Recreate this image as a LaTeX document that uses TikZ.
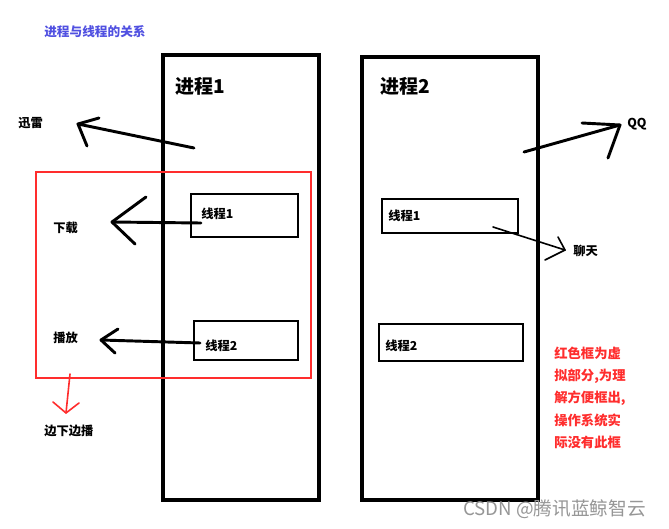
\documentclass[tikz,border=0pt]{standalone}
\usepackage{fontspec}
\setmainfont{Noto Sans CJK SC}
\newfontfamily\cjk{Noto Sans CJK SC}
\usetikzlibrary{fit}
\definecolor{titleblue}{RGB}{80,80,225}
\definecolor{markred}{RGB}{255,45,45}
\definecolor{wmgray}{RGB}{150,150,150}
\tikzset{
  procbox/.style={draw, line width=2.3pt, inner sep=0pt},
  thrbox/.style={draw, line width=2pt, inner sep=0pt},
  redbox/.style={draw=markred, line width=1.1pt, inner sep=0pt},
  lbl/.style={anchor=west, inner sep=0pt, font=\cjk\bfseries\fontsize{9.2}{11}\selectfont},
  biglbl/.style={anchor=west, inner sep=0pt, font=\cjk\bfseries\fontsize{14.3}{17}\selectfont},
  redlbl/.style={anchor=west, inner sep=0pt, text=markred, font=\cjk\bfseries\fontsize{10}{12}\selectfont},
  thick arrow/.style={line width=2.2pt, line cap=round, line join=round},
  thin arrow/.style={line width=1.2pt, line cap=round, line join=round},
}
\begin{document}
\begin{tikzpicture}[x=0.75pt,y=-0.75pt]
\useasboundingbox (0,0) rectangle (669,529);
\fill[white] (0,0) rectangle (669,529);

% title
\node[anchor=west, inner sep=0pt, text=titleblue, font=\cjk\bfseries\fontsize{9.5}{11}\selectfont] (title) at (44,32) {进程与线程的关系};

% process boxes
\node[procbox, fit={(163,55)(319,500)}] (p1) {};
\node[procbox, fit={(362,57)(538,500)}] (p2) {};
\node[biglbl] (p1l) at (175,86) {进程1};
\node[biglbl] (p2l) at (380,86) {进程2};

% red virtual frame
\node[redbox, fit={(36,172)(311,378)}] (rf) {};

% thread boxes
\node[thrbox, fit={(191,194)(298,237)}] (t11) {};
\node[thrbox, fit={(194,321)(298,360)}] (t12) {};
\node[thrbox, fit={(382,199)(518,233)}] (t21) {};
\node[thrbox, fit={(379,324)(523,361)}] (t22) {};
\node[lbl] (t11l) at (201,214) {线程1};
\node[lbl] (t12l) at (205,346) {线程2};
\node[lbl] (t21l) at (388,216) {线程1};
\node[lbl] (t22l) at (385,346) {线程2};

% outer labels
\node[lbl] (xl) at (18,123) {迅雷};
\node[lbl] (xz) at (53,228) {下载};
\node[lbl] (bf) at (53,338) {播放};
\node[lbl] (bb) at (44,431) {边下边播};
\node[lbl] (qq) at (627,124) {QQ};
\node[lbl] (lt) at (573,251) {聊天};

% arrow: 进程1 -> 迅雷
\coordinate (a1s) at (194,148);
\coordinate (a1t) at (78,124);
\draw[thick arrow] (a1s) -- (a1t);
\draw[thick arrow] (99,118) -- (a1t) -- (87,146);

% arrow: 线程1 -> 下载
\coordinate (a2s) at (201,223);
\coordinate (a2t) at (112,222);
\draw[thick arrow] (a2s) -- (a2t);
\draw[thick arrow] (146,197) -- (a2t) -- (135,244);

% arrow: 线程2 -> 播放
\coordinate (a3s) at (200,343);
\coordinate (a3t) at (101,340);
\draw[thick arrow] (a3s) -- (a3t);
\draw[thick arrow] (118,329) -- (a3t) -- (115,353);

% red arrow -> 边下边播
\coordinate (a4s) at (70,374);
\coordinate (a4t) at (66,413);
\draw[draw=markred, thin arrow] (a4s) -- (a4t);
\draw[draw=markred, thin arrow] (53,402) -- (a4t) -- (79,403);

% arrow: 进程2 -> QQ
\coordinate (a5s) at (524,152);
\coordinate (a5t) at (620,125);
\draw[thick arrow] (a5s) -- (a5t);
\draw[thick arrow] (582,123) -- (a5t) -- (608,158);

% arrow: 线程1 -> 聊天
\coordinate (a6s) at (493,227);
\coordinate (a6t) at (565,250);
\draw[thin arrow] (a6s) -- (a6t);
\draw[thin arrow] (558,237) -- (a6t) -- (545,260);

% red note
\node[redlbl] (n1) at (554,353) {红色框为虚};
\node[redlbl] (n2) at (554,376) {拟部分,为理};
\node[redlbl] (n3) at (554,398) {解方便框出,};
\node[redlbl] (n4) at (554,420) {操作系统实};
\node[redlbl] (n5) at (554,442) {际没有此框};

% watermark
\node[anchor=west, inner sep=0pt, text=wmgray, font=\cjk\fontsize{14}{16}\selectfont] (wm) at (463,509) {CSDN @腾讯蓝鲸智云};
\end{tikzpicture}
\end{document}
